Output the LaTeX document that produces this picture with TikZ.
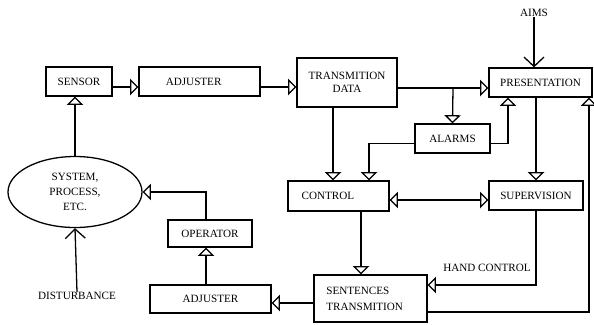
\documentclass[tikz,border=0pt]{standalone}
\usepackage{fontspec}
\setmainfont{Liberation Serif}
\usetikzlibrary{arrows.meta,shapes.geometric}
\tikzset{
  block/.style={draw, line width=1.1pt, inner sep=0pt, align=center, font=\fontsize{9.5}{11}\selectfont},
  tag/.style={inner sep=0pt, font=\fontsize{9.5}{11}\selectfont},
  flow/.style={line width=1.1pt, -{Triangle[open, length=7pt, width=14pt, line width=1.1pt]}},
  both/.style={line width=1.1pt, {Triangle[open, length=7pt, width=14pt, line width=1.1pt]}-{Triangle[open, length=7pt, width=14pt, line width=1.1pt]}},
  feed/.style={line width=1.1pt, -{Straight Barb[length=8pt, width=17pt, line width=1.1pt]}},
}
\begin{document}
\begin{tikzpicture}[x=0.03cm, y=-0.03cm]
\pgfmathsetlengthmacro\pix{0.03cm};
\useasboundingbox (0,0) rectangle (594,324);
% blocks
\node[block, minimum width=66*\pix, minimum height=29*\pix] (sensor) at (79,81.5) {SENSOR};
\node[block, minimum width=121*\pix, minimum height=29*\pix] (adjtop) at (199.5,81.5) {ADJUSTER\hspace*{10pt}};
\node[block, minimum width=100*\pix, minimum height=49*\pix] (trdata) at (347,82.5) {TRANSMITION\\DATA};
\node[block, minimum width=103*\pix, minimum height=29*\pix] (present) at (540.5,82.5) {PRESENTATION};
\node[block, minimum width=75*\pix, minimum height=29*\pix] (alarms) at (452.5,138.5) {ALARMS};
\node[block, minimum width=101*\pix, minimum height=30*\pix] (control) at (338.5,196) {CONTROL\hspace*{18pt}};
\node[block, minimum width=94*\pix, minimum height=29*\pix] (superv) at (536,195.5) {SUPERVISION};
\node[block, minimum width=113*\pix, minimum height=47*\pix, align=left, font=\fontsize{9.5}{13.5}\selectfont] (sentences) at (370.5,298.5) {SENTENCES\\TRANSMITION\hspace*{10pt}};
\node[block, minimum width=121*\pix, minimum height=28*\pix] (adjbot) at (210.5,299) {ADJUSTER};
\node[block, minimum width=84*\pix, minimum height=27*\pix] (operator) at (210,233.5) {OPERATOR};
\node[block, ellipse, minimum width=134*\pix, minimum height=71*\pix, font=\fontsize{9.5}{13}\selectfont] (system) at (75,192) {SYSTEM,\\PROCESS,\\ETC.};
% free labels
\node[tag] (aims) at (534,13) {AIMS};
\node[tag] (disturb) at (77,296) {DISTURBANCE};
\node[tag] (hand) at (487,268) {HAND CONTROL};
% rows and columns of the lines
\coordinate (toprow) at (0,87);
\coordinate (alarmrow) at (0,143.5);
\coordinate (fork) at (453,88);
\coordinate (tdcol) at (333,0);
\coordinate (alcol) at (369,0);
\coordinate (prcol) at (508,0);
\coordinate (ctcol) at (361,0);
\coordinate (backcol) at (589,0);
\coordinate (opcol) at (206,0);
% connectors
\draw[flow] (sensor.east |- toprow) -- (adjtop.west |- toprow);
\draw[flow] (adjtop.east |- toprow) -- (trdata.west |- toprow);
\draw[flow] (trdata.east |- fork) -- (present.west |- fork);
\draw[flow] (fork) -- (alarms.north);
\draw[flow] (alarms.east |- alarmrow) -| (present.south -| prcol);
\draw[flow] (alarms.west |- alarmrow) -| (control.north -| alcol);
\draw[flow] (trdata.south -| tdcol) -- (control.north -| tdcol);
\draw[both] (control.east |- 0,200) -- (superv.west |- 0,200);
\draw[flow] (present.south -| superv.north) -- (superv.north);
\draw[flow] (control.south -| ctcol) -- (sentences.north -| ctcol);
\draw[flow] (superv.south) |- (sentences.east |- 0,285);
\draw[flow] (sentences.east |- 0,312) -| (present.south -| backcol);
\draw[flow] (sentences.west |- 0,303) -- (adjbot.east |- 0,303);
\draw[flow] (adjbot.north -| opcol) -- (operator.south -| opcol);
\draw[flow] (operator.north -| opcol) |- (system.east);
\draw[flow] (system.north) -- (sensor.south -| system.north);
\draw[feed] (disturb.north) -- (system.south);
\draw[feed] (aims.south) -- (present.north -| aims.south);
\end{tikzpicture}
\end{document}
